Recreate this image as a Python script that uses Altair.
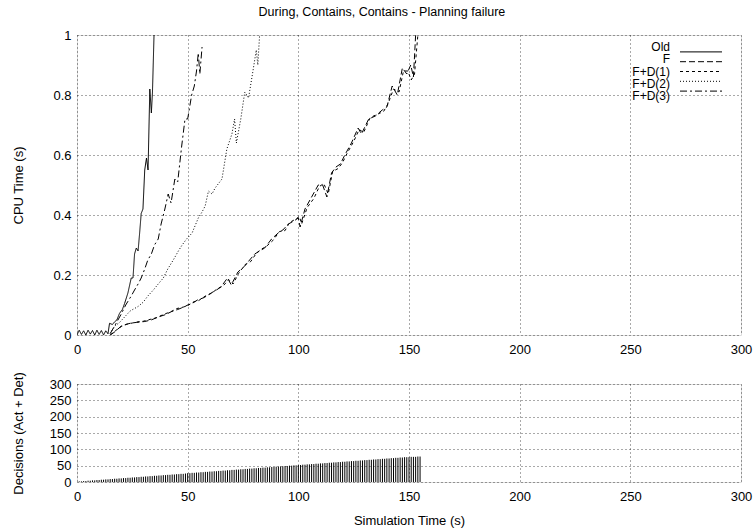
import altair as alt
import pandas as pd

FONT = "Liberation Sans"

series_names = ["Old", "F", "F+D(1)", "F+D(2)", "F+D(3)"]
series_dash = [[1, 0], [6, 3], [3, 3], [1, 2], [7, 3, 2, 3]]

old_t = [0, 1, 2, 3, 4, 5, 6, 7, 8, 9, 10, 11, 12, 13, 14, 14.7, 16, 17, 18, 19.2, 20.5, 21.5, 23, 24.5,
         25.3, 26, 26.8, 27.6, 28.3, 29, 29.8, 30.6, 31.4, 32.1, 32.9, 33.6, 34.1, 34.8]
old_v = [0.0, 0.016, 0.002, 0.014, 0.0, 0.016, 0.003, 0.015, 0.0, 0.016, 0.002, 0.015, 0.0, 0.014, 0.004,
         0.039, 0.035, 0.044, 0.05, 0.072, 0.085, 0.105, 0.14, 0.19, 0.19, 0.27, 0.29, 0.28, 0.34, 0.405,
         0.42, 0.55, 0.59, 0.55, 0.82, 0.74, 0.81, 1.0]

f_t = [15, 17, 20, 22, 24.5, 27, 30.6, 33.5, 36.7, 40, 42.7, 45.5, 48.8, 50, 52, 54.5, 57.5, 60.6, 63, 65,
       68, 69.7, 72.7, 75.8, 78, 80.3, 82.5, 84.8, 87.9, 90.9, 93, 95.5, 98, 100, 100.8, 103, 106, 109,
       111, 112.9, 115, 117, 119, 121, 124, 127, 128.5, 131.8, 134.8, 137.9, 140, 142.4, 144.7, 147, 149,
       150.8, 152, 153]
f_v = [0.0, 0.01, 0.03, 0.035, 0.04, 0.042, 0.045, 0.05, 0.06, 0.068, 0.078, 0.085, 0.095, 0.1, 0.105,
       0.117, 0.125, 0.14, 0.15, 0.16, 0.19, 0.167, 0.21, 0.23, 0.25, 0.27, 0.28, 0.29, 0.32, 0.34, 0.35,
       0.37, 0.38, 0.39, 0.36, 0.42, 0.46, 0.5, 0.5, 0.46, 0.54, 0.56, 0.57, 0.6, 0.64, 0.69, 0.67, 0.72,
       0.73, 0.75, 0.76, 0.83, 0.8, 0.89, 0.87, 0.9, 0.86, 1.0]

fd1_t = [15, 17.5, 20, 22.5, 25, 27.5, 30, 33, 36, 39.5, 42, 45, 48, 50.5, 52.5, 55, 58, 61, 63.5, 66,
         68.5, 70.5, 73, 76, 78.5, 81, 83, 85.5, 88.5, 91.5, 94, 96, 98.5, 100.5, 101.5, 104, 107, 109.5,
         111.5, 113.5, 115.5, 118, 120, 122, 125, 127.5, 129.5, 132.5, 135.5, 138.5, 140.5, 143, 145.5,
         147.5, 149.5, 151, 152.5, 154]
fd1_v = [0.0, 0.015, 0.028, 0.036, 0.04, 0.044, 0.046, 0.052, 0.058, 0.07, 0.076, 0.088, 0.093, 0.1,
         0.11, 0.115, 0.13, 0.14, 0.155, 0.163, 0.185, 0.17, 0.205, 0.235, 0.245, 0.272, 0.285, 0.295,
         0.315, 0.345, 0.348, 0.375, 0.385, 0.395, 0.37, 0.425, 0.455, 0.495, 0.505, 0.47, 0.545, 0.555,
         0.575, 0.605, 0.645, 0.685, 0.675, 0.725, 0.735, 0.745, 0.77, 0.82, 0.81, 0.88, 0.88, 0.85,
         0.87, 1.0]

fd2_t = [15, 17, 19, 21.5, 24, 27.6, 30, 32, 34.5, 36.7, 39, 41, 43.5, 45.8, 47.5, 49.5, 52, 54.8, 56.5,
         57.9, 59.4, 61, 62.4, 65.5, 67.7, 70, 71.2, 72, 74, 75.8, 77.5, 79.5, 81, 81.7, 82.5]
fd2_v = [0.005, 0.03, 0.04, 0.06, 0.08, 0.095, 0.11, 0.13, 0.15, 0.17, 0.19, 0.22, 0.25, 0.28, 0.3, 0.32,
         0.34, 0.39, 0.41, 0.43, 0.48, 0.47, 0.49, 0.52, 0.62, 0.67, 0.72, 0.64, 0.72, 0.81, 0.79, 0.88,
         0.95, 0.9, 1.0]

fd3_t = [15, 17, 20, 22, 24.5, 26, 27.6, 29, 30.6, 32, 33.6, 35, 36.7, 38, 39.7, 41.2, 42.5, 44.2, 45.5,
         47.3, 48.8, 50, 51.8, 53, 54, 54.8, 55.5, 56.5]
fd3_v = [0.005, 0.03, 0.07, 0.1, 0.13, 0.15, 0.17, 0.19, 0.22, 0.25, 0.27, 0.3, 0.32, 0.37, 0.42, 0.47,
         0.44, 0.52, 0.51, 0.63, 0.72, 0.72, 0.8, 0.83, 0.88, 0.94, 0.87, 0.96]

dec_t = list(range(1, 156))
dec_v = [2, 2, 3, 3, 4, 4, 5, 5, 6, 6,
         7, 7, 8, 8, 9, 9, 10, 10, 11, 11,
         12, 12, 13, 13, 14, 14, 15, 15, 16, 16,
         17, 17, 18, 18, 19, 19, 20, 20, 21, 21,
         22, 22, 23, 23, 24, 24, 25, 25, 26, 27,
         27, 28, 28, 29, 29, 30, 30, 31, 31, 32,
         32, 33, 33, 34, 34, 35, 35, 36, 36, 37,
         37, 38, 38, 39, 39, 40, 40, 41, 41, 42,
         42, 43, 43, 44, 44, 45, 45, 46, 46, 47,
         47, 48, 48, 49, 49, 50, 50, 51, 51, 52,
         52, 53, 53, 54, 54, 55, 55, 56, 56, 57,
         57, 58, 58, 59, 59, 60, 60, 61, 61, 62,
         62, 63, 63, 64, 64, 65, 65, 66, 66, 67,
         67, 68, 68, 69, 69, 70, 70, 71, 71, 72,
         72, 73, 73, 74, 74, 75, 75, 76, 76, 76,
         77, 77, 77, 78, 78]

x_ticks = [0, 50, 100, 150, 200, 250, 300]
cpu_ticks = [0, 0.2, 0.4, 0.6, 0.8, 1.0]
dec_ticks = [0, 50, 100, 150, 200, 250, 300]

rows = []
for name, ts, vs in [("Old", old_t, old_v), ("F", f_t, f_v), ("F+D(1)", fd1_t, fd1_v),
                     ("F+D(2)", fd2_t, fd2_v), ("F+D(3)", fd3_t, fd3_v)]:
    for i, (t, v) in enumerate(zip(ts, vs)):
        rows.append({"series": name, "t": t, "cpu": v, "order": i})
lines_df = pd.DataFrame(rows)
dec_df = pd.DataFrame({"t": dec_t, "dec": dec_v})
legend_df = pd.DataFrame({"series": series_names})

grid_kw = dict(grid=True, gridColor="black", gridDash=[1, 3], gridWidth=0.8, gridOpacity=0.85,
               ticks=False, domain=False, labelFont=FONT, labelFontSize=13, titleFont=FONT,
               titleFontSize=13, titleFontWeight="normal", labelColor="black", titleColor="black")

dash_scale = alt.Scale(domain=series_names, range=series_dash)

lines = alt.Chart(lines_df).mark_line(strokeWidth=1, color="black", clip=True).encode(
    x=alt.X("t:Q", scale=alt.Scale(domain=[0, 300], nice=False),
            axis=alt.Axis(values=x_ticks, title=None, labelPadding=8, labelFlush=False, **grid_kw)),
    y=alt.Y("cpu:Q", scale=alt.Scale(domain=[0, 1], nice=False),
            axis=alt.Axis(values=cpu_ticks, format="~g", title="CPU Time (s)", labelPadding=6,
                          minExtent=30, maxExtent=30, titlePadding=22, **grid_kw)),
    strokeDash=alt.StrokeDash("series:N", scale=dash_scale, legend=None),
    detail="series:N",
    order="order:Q",
)

# legend (gnuplot style: label to the left of the line sample), top-right inside the plot
legend_y = alt.Y("series:N", scale=alt.Scale(domain=series_names, range=[12, 61], padding=0), axis=None)
legend_text = alt.Chart(legend_df).mark_text(align="right", baseline="middle", font=FONT, fontSize=12,
                                             color="black").encode(
    x=alt.value(593), y=legend_y, text="series:N")
legend_line = alt.Chart(legend_df).mark_rule(strokeWidth=1, color="black").encode(
    x=alt.value(603), x2=alt.value(645), y=legend_y,
    strokeDash=alt.StrokeDash("series:N", scale=dash_scale, legend=None))

top = alt.layer(lines, legend_text, legend_line).resolve_scale(y="independent").properties(
    width=664, height=300)

bottom = alt.Chart(dec_df).mark_rule(strokeWidth=1, color="black").encode(
    x=alt.X("t:Q", scale=alt.Scale(domain=[0, 300], nice=False),
            axis=alt.Axis(values=x_ticks, title="Simulation Time (s)", labelPadding=8,
                          titlePadding=11, labelFlush=False, **grid_kw)),
    y=alt.Y("dec:Q", scale=alt.Scale(domain=[0, 300], nice=False),
            axis=alt.Axis(values=dec_ticks, title="Decisions (Act + Det)", labelPadding=6,
                          minExtent=30, maxExtent=30, titlePadding=22, **grid_kw)),
    y2=alt.datum(0),
).properties(width=664, height=98)

chart = alt.vconcat(top, bottom, spacing=14).properties(
    title=alt.TitleParams("During, Contains, Contains - Planning failure", font=FONT, fontSize=12.5,
                          fontWeight="normal", color="black", anchor="middle", offset=10),
    padding={"left": 11, "top": 6, "right": 0, "bottom": 0},
).configure_view(stroke="black", strokeWidth=1).configure(background="white")

chart.save("out.html", embed_options={"renderer": "svg", "actions": False})
